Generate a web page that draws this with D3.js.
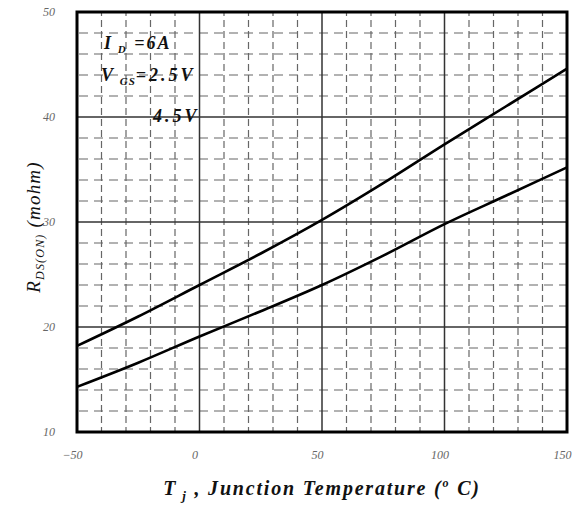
<!DOCTYPE html>
<html>
<head>
<meta charset="utf-8">
<script src="https://cdn.jsdelivr.net/npm/d3@7"></script>
<style>
  body { margin: 0; background: #fff; }
  text { font-family: "Liberation Serif", "DejaVu Serif", serif; }
  .tick-label { font-style: italic; font-size: 12px; fill: #666; }
  .titulo { font-style: italic; font-weight: bold; fill: #111; }
</style>
</head>
<body>
<svg id="grafico"></svg>
<script>
// dados
const temperaturas = [-50, -25, 0, 25, 50, 75, 100, 125, 150];
const rdsVgs25 = [18.2, 21.0, 24.0, 27.0, 30.2, 33.7, 37.4, 41.0, 44.6];
const rdsVgs45 = [14.3, 16.6, 19.1, 21.5, 24.0, 26.8, 29.8, 32.5, 35.2];
const ticksX = [-50, 0, 50, 100, 150];
const ticksY = [10, 20, 30, 40, 50];

const largura = 578, altura = 506;
const margem = { esquerda: 77, direita: 11, superior: 12, inferior: 74 };
const larguraPlot = largura - margem.esquerda - margem.direita;
const alturaPlot = altura - margem.superior - margem.inferior;

const svg = d3.select('#grafico').attr('width', largura).attr('height', altura);
const plot = svg.append('g').attr('transform', `translate(${margem.esquerda}, ${margem.superior})`);

const x = d3.scaleLinear().domain([-50, 150]).range([0, larguraPlot]);
const y = d3.scaleLinear().domain([10, 50]).range([alturaPlot, 0]);

// grade secundária tracejada
const menoresX = d3.range(-50, 151, 10).filter(v => !ticksX.includes(v));
const menoresY = d3.range(10, 51, 2).filter(v => !ticksY.includes(v));

plot.append('g').selectAll('line').data(menoresX).join('line')
    .attr('x1', d => x(d)).attr('x2', d => x(d))
    .attr('y1', 0).attr('y2', alturaPlot)
    .attr('stroke', '#666').attr('stroke-width', 1.2)
    .attr('stroke-dasharray', '7,4').attr('stroke-dashoffset', 3);

plot.append('g').selectAll('line').data(menoresY).join('line')
    .attr('y1', d => y(d)).attr('y2', d => y(d))
    .attr('x1', 0).attr('x2', larguraPlot)
    .attr('stroke', '#666').attr('stroke-width', 1.2)
    .attr('stroke-dasharray', '9,6').attr('stroke-dashoffset', -2);

// grade principal
plot.append('g').selectAll('line').data(ticksX.slice(1, -1)).join('line')
    .attr('x1', d => x(d)).attr('x2', d => x(d))
    .attr('y1', 0).attr('y2', alturaPlot)
    .attr('stroke', '#333').attr('stroke-width', 1.5);

plot.append('g').selectAll('line').data(ticksY.slice(1, -1)).join('line')
    .attr('y1', d => y(d)).attr('y2', d => y(d))
    .attr('x1', 0).attr('x2', larguraPlot)
    .attr('stroke', '#333').attr('stroke-width', 1.5);

// curvas
const linha = serie => d3.line()
    .x((d, i) => x(temperaturas[i]))
    .y(d => y(d))
    .curve(d3.curveMonotoneX)(serie);

[rdsVgs25, rdsVgs45].forEach(serie => {
  plot.append('path')
      .attr('d', linha(serie))
      .attr('fill', 'none')
      .attr('stroke', '#000')
      .attr('stroke-width', 2.6);
});

// moldura
plot.append('rect')
    .attr('width', larguraPlot).attr('height', alturaPlot)
    .attr('fill', 'none').attr('stroke', '#000').attr('stroke-width', 3);

// eixos (apenas rótulos)
const eixoX = d3.axisBottom(x).tickValues(ticksX).tickSize(0).tickPadding(18);
const gx = plot.append('g').attr('transform', `translate(-5, ${alturaPlot})`).call(eixoX);
gx.select('.domain').remove();
gx.selectAll('text').attr('class', 'tick-label').attr('fill', null);

const eixoY = d3.axisLeft(y).tickValues(ticksY).tickSize(0).tickPadding(22);
const gy = plot.append('g').call(eixoY);
gy.select('.domain').remove();
gy.selectAll('text').attr('class', 'tick-label').attr('fill', null);

// título do eixo X
const tx = svg.append('text')
    .attr('class', 'titulo')
    .attr('x', 322).attr('y', 495)
    .attr('text-anchor', 'middle')
    .style('font-size', '20px')
    .style('letter-spacing', '1.8px');
tx.append('tspan').text('T');
tx.append('tspan').attr('dy', 5).style('font-size', '13px').text(' j');
tx.append('tspan').attr('dy', -5).text(' , Junction Temperature (');
tx.append('tspan').attr('dy', -8).style('font-size', '12px').text('o');
tx.append('tspan').attr('dy', 8).text(' C)');

// título do eixo Y
const ty = svg.append('text')
    .attr('transform', 'translate(40, 227) rotate(-90)')
    .attr('text-anchor', 'middle')
    .style('font-style', 'italic')
    .style('font-size', '19px')
    .style('letter-spacing', '1.2px')
    .attr('fill', '#111');
ty.append('tspan').text('R');
ty.append('tspan').attr('dy', 4).style('font-size', '12px').text('DS(ON)');
ty.append('tspan').attr('dy', -4).text(' (mohm)');

// anotações
const a1 = plot.append('text').attr('class', 'titulo').attr('x', 27).attr('y', 37)
    .style('font-size', '18px').style('letter-spacing', '2px');
a1.append('tspan').text('I');
a1.append('tspan').attr('dy', 4).style('font-size', '11px').text(' D');
a1.append('tspan').attr('dy', -4).text(' =6A');

const a2 = plot.append('text').attr('class', 'titulo').attr('x', 24).attr('y', 69)
    .style('font-size', '18px').style('letter-spacing', '3px');
a2.append('tspan').text('V');
a2.append('tspan').attr('dy', 4).style('font-size', '11px').style('letter-spacing', '1px').text(' GS');
a2.append('tspan').attr('dy', -4).text('=2.5V');

plot.append('text').attr('class', 'titulo').attr('x', 76).attr('y', 110)
    .style('font-size', '18px').style('letter-spacing', '3px').text('4.5V');
</script>
</body>
</html>
